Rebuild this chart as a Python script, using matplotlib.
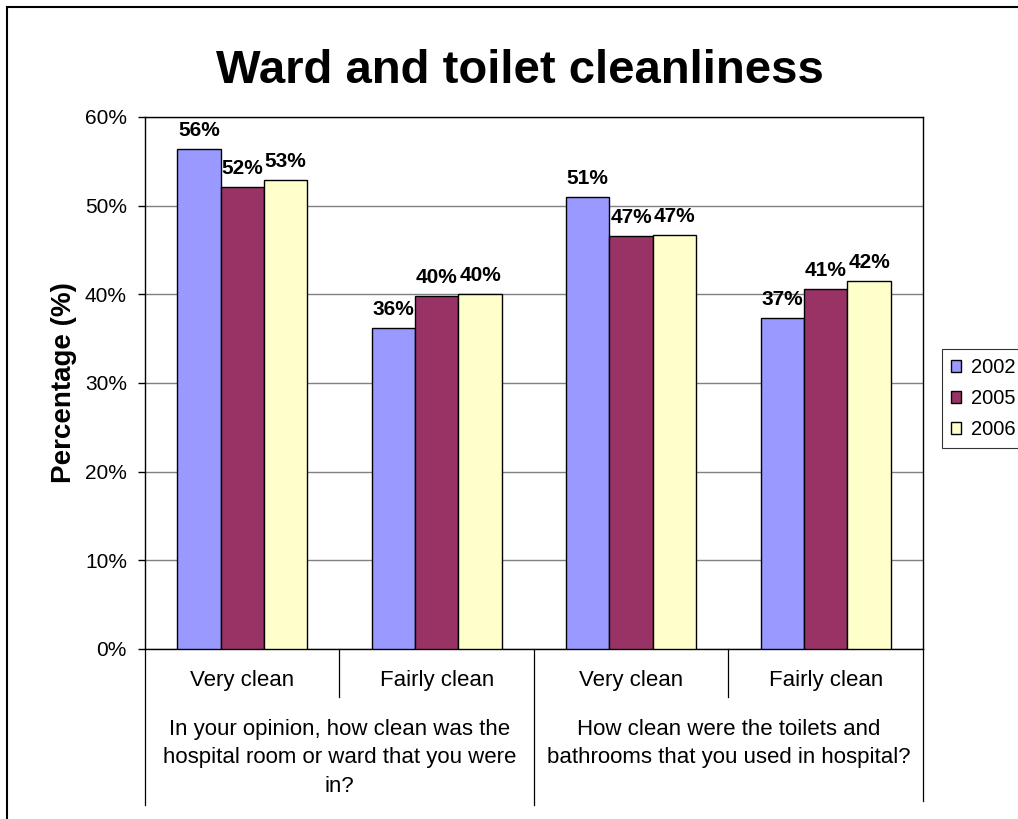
import numpy as np
import matplotlib.pyplot as plt
from matplotlib.lines import Line2D
from matplotlib.patches import Rectangle

plt.rcParams['font.family'] = ['Liberation Sans', 'DejaVu Sans']

# data
categories = ['Very clean', 'Fairly clean', 'Very clean', 'Fairly clean']
groups = ['In your opinion, how clean was the\nhospital room or ward that you were\nin?',
          'How clean were the toilets and\nbathrooms that you used in hospital?']
years = ['2002', '2005', '2006']
v2002 = [56.4, 36.2, 51.0, 37.3]
v2005 = [52.1, 39.8, 46.6, 40.6]
v2006 = [52.9, 40.0, 46.7, 41.5]
colors = ['#9999FF', '#993366', '#FFFFCC']

fig = plt.figure(figsize=(10.18, 8.19), dpi=100)
ax = fig.add_axes([0.1424, 0.2076, 0.7642, 0.6496])

x = np.arange(len(categories))
w = 0.223
for i, (vals, c, yr) in enumerate(zip([v2002, v2005, v2006], colors, years)):
    bars = ax.bar(x + (i - 1) * w, vals, w, color=c, edgecolor='black', linewidth=1, label=yr, zorder=3)
    for b, v in zip(bars, vals):
        ax.text(b.get_x() + b.get_width() / 2, v + 1.0, '%d%%' % round(v),
                ha='center', va='bottom', fontsize=15, fontweight='bold', zorder=4)

ax.set_xlim(-0.5, 3.5)
ax.set_ylim(0, 60)
ax.set_yticks(range(0, 61, 10))
ax.set_yticklabels(['%d%%' % t for t in range(0, 61, 10)], fontsize=15)
ax.yaxis.grid(True, color='#808080', linewidth=1, zorder=0)
ax.set_xticks([])
ax.tick_params(axis='y', length=5, width=1, pad=8)
for s in ax.spines.values():
    s.set_color('black')
    s.set_linewidth(1)
ax.set_ylabel('Percentage (%)', fontsize=20, fontweight='bold', labelpad=6)

# two-level category axis
for i, cat in enumerate(categories):
    ax.text((i + 0.5) / 4, -0.060, cat, transform=ax.transAxes, ha='center', va='center', fontsize=16)
for j, g in enumerate(groups):
    ax.text((j + 0.5) / 2, -0.132, g, transform=ax.transAxes, ha='center', va='top',
            fontsize=16, linespacing=1.45)
for xs, depth in [(0, 0.293), (0.25, 0.090), (0.5, 0.293), (0.75, 0.090), (1.0, 0.286)]:
    ax.add_line(Line2D([xs, xs], [0, -depth], transform=ax.transAxes, color='black',
                       linewidth=0.9, clip_on=False))

fig.text(0.511, 0.913, 'Ward and toilet cleanliness', ha='center', va='center',
         fontsize=34, fontweight='bold')

leg = fig.legend(loc='upper left', bbox_to_anchor=(0.9253, 0.574), borderaxespad=0,
                 fontsize=14.5, frameon=True, fancybox=False, edgecolor='black',
                 handlelength=0.5, handleheight=0.5, handletextpad=0.5,
                 borderpad=0.45, labelspacing=0.6)
leg.get_frame().set_linewidth(0.8)

fig.add_artist(Rectangle((0.007, -0.1), 1.2, 1.1 - 0.0085, transform=fig.transFigure,
                         fill=False, edgecolor='black', linewidth=1.5))

fig.savefig('out.png', dpi=100)
